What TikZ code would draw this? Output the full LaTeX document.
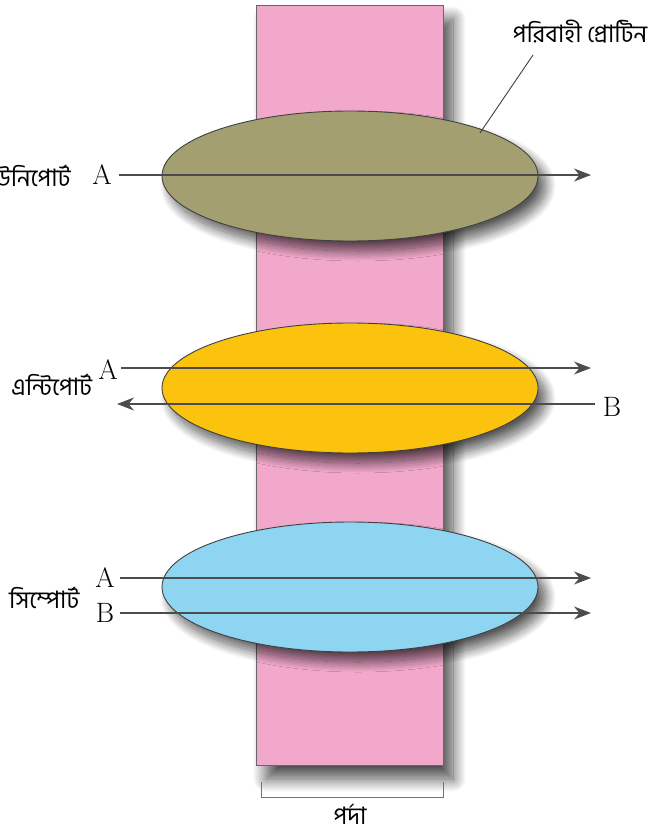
\documentclass[tikz,border=0pt]{standalone}
\usepackage{fontspec}
\newfontfamily\bn[Script=Bengali]{Hind Siliguri}
\usetikzlibrary{shapes.geometric,shadows.blur,arrows.meta}
\definecolor{memb}{HTML}{F2A8CB}
\definecolor{olivep}{HTML}{A49F70}
\definecolor{yellowp}{HTML}{FCC30E}
\definecolor{bluep}{HTML}{8ED5F2}
\begin{document}
\begin{tikzpicture}[x=1pt,y=-1pt,
  carrier/.style={ellipse,draw=black!75,line width=.9pt,minimum width=376pt,minimum height=130pt,
    blur shadow={shadow xshift=8pt,shadow yshift=-10pt,shadow blur radius=10pt,shadow blur steps=20,shadow opacity=65}},
  flow/.style={draw=black!70,line width=1.3pt,-{Stealth[length=17pt,width=13pt]}},
  bntext/.style={font=\bn\fontsize{24}{26}\selectfont,inner sep=0pt},
  letter/.style={font=\fontsize{28}{30}\selectfont,inner sep=0pt}]
\useasboundingbox (0,0) rectangle (662,837);
% membrane
\node[draw=black!60,line width=.9pt,fill=memb,minimum width=187pt,minimum height=760pt,inner sep=0pt,
  blur shadow={shadow xshift=10pt,shadow yshift=-14pt,shadow blur radius=13pt,shadow blur steps=20,shadow opacity=70}] (mem) at (349.5,385) {};
\draw[black!55,line width=1pt] (261,782)--(261,797)--(443,797)--(443,782);
\node[bntext] (pmem) at (350,814) {পর্দা};
% carriers
\node[carrier,fill=olivep] (uni) at (350,176) {};
\node[carrier,fill=yellowp] (anti) at (350,388) {};
\node[carrier,fill=bluep] (sym) at (350,587) {};
\node[bntext] (prot) at (580,32) {পরিবাহী প্রোটিন};
\coordinate (ptip) at (480,133);
\draw[black!75,line width=.9pt] (533,55)--(ptip);
% uniport
\node[bntext,anchor=west] (tuni) at (-16,176) {ইউনিপোর্ট};
\node[letter] (ua) at (102,175) {A};
\coordinate (ue) at (591,175);
\draw[flow] (ua.east)++(7,0) -- (ue);
% antiport
\node[bntext,anchor=west] (tanti) at (11,385) {এন্টিপোর্ট};
\node[letter] (aa) at (108,370) {A};
\coordinate (ae) at (591,368);
\draw[flow] (121,368) -- (ae);
\node[letter] (ab) at (612,407) {B};
\coordinate (abe) at (117,404);
\draw[flow] (595,404) -- (abe);
% symport
\node[bntext,anchor=west] (tsym) at (9,598) {সিম্পোর্ট};
\foreach \n/\t/\yy in {sa/A/578,sb/B/613}{
  \node[letter] (\n) at (105,\yy) {\t};
  \coordinate (\n e) at (591,\yy);
  \draw[flow] (120,\yy) -- (\n e);}
\end{tikzpicture}
\end{document}
